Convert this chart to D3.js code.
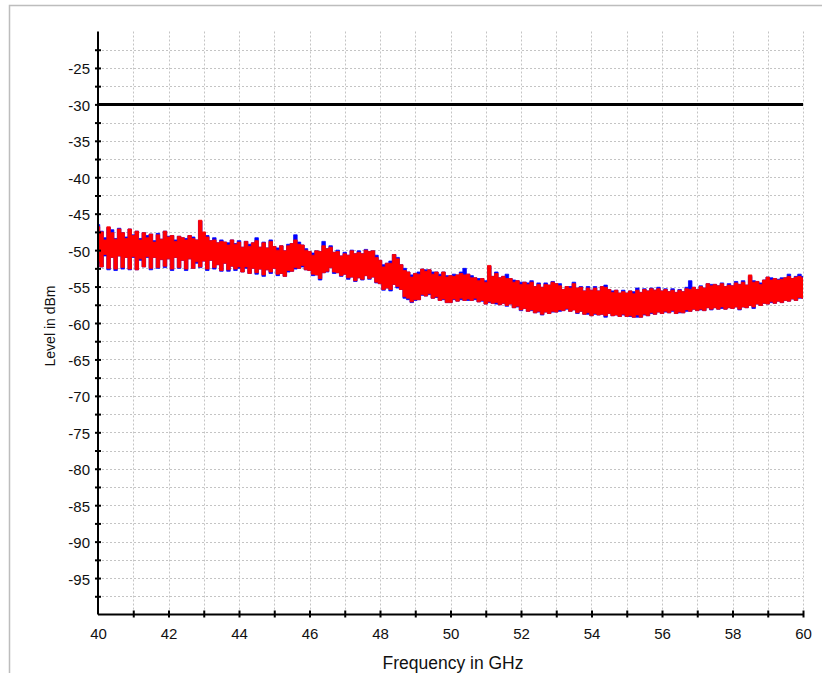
<!DOCTYPE html>
<html>
<head>
<meta charset="utf-8">
<script src="https://cdn.jsdelivr.net/npm/d3@7"></script>
<style>
  html, body { margin: 0; padding: 0; background: #fff; }
  svg { display: block; }
  text { font-family: "Liberation Sans", Arial, sans-serif; fill: #111; }
</style>
</head>
<body>
<svg id="chart" width="822" height="673"></svg>
<script>
// ---- data ----
const freqStart = 40, freqEnd = 60, freqStep = 0.1;
const xTickValues = d3.range(41, 61, 1);
const xLabelValues = [40, 42, 44, 46, 48, 50, 52, 54, 56, 58, 60];
const yTickValues = d3.range(-97.5, -20, 2.5);
const yLabelValues = [-95, -90, -85, -80, -75, -70, -65, -60, -55, -50, -45, -40, -35, -30, -25];
const limitLevel = -30;

// red trace: max / min envelope per 0.1 GHz
const redMax = [
-46.8,-47.5,-48.6,-46.8,-47.6,-48.5,-47.1,-47.6,-48.4,-47.1,
-48.0,-47.4,-48.6,-47.6,-48.3,-47.8,-48.9,-47.9,-48.5,-47.4,
-48.2,-48.0,-48.8,-48.1,-48.3,-48.6,-48.0,-48.4,-48.6,-45.9,
-47.5,-48.2,-48.7,-48.6,-49.0,-48.8,-48.9,-49.3,-48.6,-49.2,
-48.9,-49.6,-48.8,-49.5,-49.0,-48.7,-49.6,-49.0,-49.7,-48.8,
-49.5,-50.0,-49.4,-50.1,-49.4,-49.1,-48.6,-49.2,-49.3,-50.0,
-50.2,-50.7,-50.1,-50.2,-49.4,-49.8,-49.6,-50.3,-50.2,-50.8,
-50.5,-50.7,-50.1,-50.5,-50.3,-50.5,-50.0,-50.2,-50.1,-51.0,
-51.4,-52.3,-51.8,-51.8,-50.6,-51.2,-52.0,-52.8,-53.0,-53.7,
-53.2,-53.3,-52.6,-52.9,-52.7,-53.3,-53.0,-53.6,-53.0,-53.7,
-53.5,-53.6,-53.4,-53.2,-53.4,-53.3,-53.8,-53.8,-54.2,-53.9,
-54.4,-52.1,-53.6,-53.2,-53.8,-53.6,-53.9,-53.9,-54.4,-54.2,
-54.7,-54.4,-54.7,-54.4,-55.0,-54.7,-55.1,-54.7,-54.8,-54.4,
-54.6,-54.9,-55.4,-55.0,-55.2,-54.6,-55.2,-55.1,-55.6,-55.2,
-55.5,-55.2,-55.6,-55.0,-55.1,-55.4,-55.8,-55.5,-55.9,-55.7,
-55.9,-55.6,-56.0,-55.5,-55.8,-55.4,-55.6,-55.3,-55.5,-55.3,
-55.6,-55.4,-55.7,-55.5,-55.8,-55.5,-55.7,-55.3,-55.4,-55.1,
-55.4,-55.0,-55.2,-54.6,-54.9,-54.7,-54.9,-54.6,-55.0,-54.8,
-54.9,-54.5,-54.7,-54.4,-54.8,-53.4,-54.4,-54.3,-54.7,-54.1,
-53.7,-54.1,-53.9,-54.1,-54.0,-53.8,-53.6,-53.9,-53.7,-53.6,
-53.8];
const redMin = [
-51.6,-52.3,-50.6,-52.5,-51.0,-52.6,-50.8,-52.4,-51.0,-52.6,
-50.9,-52.7,-51.2,-52.3,-50.9,-52.5,-51.0,-52.4,-51.3,-52.2,
-51.2,-52.6,-51.0,-52.4,-51.4,-52.6,-51.2,-52.5,-51.6,-52.3,
-51.5,-52.6,-51.4,-52.4,-52.0,-52.8,-51.8,-52.7,-52.2,-52.6,
-52.3,-53.0,-52.3,-53.2,-52.5,-53.1,-52.6,-53.4,-52.7,-53.0,
-52.5,-53.3,-53.2,-53.6,-52.8,-52.9,-52.4,-52.5,-52.1,-52.7,
-52.8,-53.3,-53.4,-53.9,-53.1,-52.9,-52.4,-53.0,-53.1,-53.5,
-53.3,-53.8,-53.7,-54.2,-53.8,-54.0,-53.5,-53.9,-53.7,-54.4,
-54.6,-55.4,-55.2,-55.4,-54.7,-55.0,-55.4,-56.4,-56.6,-57.1,
-56.8,-56.8,-56.1,-56.3,-56.0,-56.6,-56.4,-56.9,-56.7,-57.2,
-57.2,-56.7,-57.0,-56.6,-56.9,-56.7,-56.9,-56.6,-57.1,-56.9,
-57.4,-57.1,-57.3,-57.2,-57.5,-57.3,-57.6,-57.4,-57.9,-57.7,
-58.2,-58.0,-58.4,-58.2,-58.6,-58.4,-58.8,-58.5,-58.7,-58.4,
-58.5,-58.2,-58.3,-58.0,-58.4,-58.2,-58.6,-58.4,-58.8,-58.6,
-59.0,-58.7,-58.9,-58.8,-59.0,-58.7,-59.0,-58.9,-59.1,-58.8,
-59.1,-59.0,-59.2,-58.9,-59.2,-58.8,-59.0,-58.6,-58.8,-58.5,
-58.7,-58.4,-58.6,-58.3,-58.7,-58.5,-58.6,-58.2,-58.4,-58.1,
-58.3,-58.1,-58.3,-57.9,-58.1,-57.9,-58.1,-57.8,-58.1,-57.9,
-58.0,-57.8,-58.1,-57.8,-57.9,-57.6,-57.8,-57.4,-57.6,-57.3,
-57.4,-57.1,-57.3,-57.0,-57.2,-56.9,-57.0,-56.7,-56.9,-56.5,
-56.6];
// blue trace: max / min envelope per 0.1 GHz
const blueMax = [
-46.5,-47.4,-48.3,-46.9,-47.2,-48.4,-47.0,-47.6,-48.2,-47.1,
-47.9,-47.4,-48.4,-47.6,-48.0,-47.8,-48.7,-47.7,-48.5,-47.4,
-48.1,-48.0,-48.6,-48.1,-48.3,-48.4,-48.0,-48.2,-48.6,-46.0,
-47.6,-48.0,-48.7,-48.3,-49.0,-48.6,-48.9,-49.0,-48.6,-49.1,
-48.7,-49.6,-48.8,-49.2,-49.0,-48.3,-49.6,-48.9,-49.7,-48.6,
-49.5,-49.7,-49.4,-50.1,-49.2,-49.1,-47.9,-48.9,-49.3,-49.8,
-50.2,-50.4,-50.1,-50.2,-48.8,-49.8,-49.4,-50.3,-50.0,-50.8,
-50.3,-50.7,-50.0,-50.5,-50.1,-50.5,-49.9,-50.2,-50.1,-50.7,
-51.4,-52.0,-51.8,-51.5,-50.6,-51.0,-52.0,-52.5,-53.0,-53.4,
-53.2,-53.0,-52.6,-52.7,-52.7,-53.0,-53.0,-53.3,-53.0,-53.5,
-53.5,-53.3,-53.4,-53.0,-52.5,-53.3,-53.5,-53.8,-53.9,-53.9,
-54.2,-52.2,-53.6,-53.0,-53.8,-53.6,-53.3,-53.9,-54.1,-54.2,
-54.4,-54.4,-54.5,-54.2,-55.0,-54.5,-55.1,-54.5,-54.8,-54.3,
-54.6,-54.6,-55.4,-55.0,-55.0,-54.4,-55.2,-55.0,-55.6,-55.0,
-55.5,-55.0,-55.6,-55.0,-54.8,-55.4,-55.6,-55.5,-55.9,-55.5,
-55.9,-55.6,-55.7,-55.2,-55.8,-55.3,-55.6,-55.2,-55.5,-55.1,
-55.6,-55.3,-55.7,-55.3,-55.8,-55.4,-55.7,-55.1,-54.2,-55.1,
-55.4,-54.9,-55.2,-54.6,-54.7,-54.7,-54.9,-54.5,-55.0,-54.6,
-54.9,-54.3,-54.7,-54.2,-54.8,-53.6,-54.2,-54.3,-54.5,-54.1,
-53.7,-53.8,-53.9,-54.0,-53.8,-53.8,-53.3,-53.9,-53.6,-53.3,
-53.6];
const blueMin = [
-51.8,-52.3,-50.8,-52.7,-51.0,-52.8,-50.8,-52.6,-51.0,-52.7,
-51.0,-52.7,-51.4,-52.3,-51.0,-52.7,-51.0,-52.5,-51.3,-52.4,
-51.2,-52.8,-51.0,-52.5,-51.4,-52.8,-51.2,-52.5,-51.8,-52.4,
-51.5,-52.8,-51.4,-52.6,-52.0,-52.9,-51.8,-52.9,-52.2,-52.8,
-52.5,-53.0,-52.5,-53.2,-52.5,-53.3,-52.6,-53.6,-52.7,-53.2,
-52.5,-53.5,-53.2,-53.6,-53.0,-52.9,-52.6,-52.5,-52.3,-52.7,
-52.8,-53.5,-53.4,-54.1,-53.1,-53.0,-52.4,-53.2,-53.1,-53.6,
-53.3,-54.0,-53.7,-54.3,-53.8,-54.1,-53.5,-54.0,-53.7,-54.5,
-54.6,-55.5,-55.2,-55.6,-54.7,-55.2,-55.4,-56.6,-56.8,-57.2,
-56.9,-56.8,-56.2,-56.3,-56.1,-56.6,-56.5,-56.9,-56.8,-57.2,
-57.2,-56.8,-57.0,-56.8,-56.9,-56.9,-56.9,-56.8,-57.1,-57.0,
-57.4,-57.2,-57.3,-57.4,-57.5,-57.3,-57.7,-57.4,-57.9,-57.8,
-58.3,-58.0,-58.4,-58.3,-58.6,-58.5,-58.9,-58.5,-58.7,-58.5,
-58.5,-58.4,-58.3,-58.1,-58.4,-58.2,-58.7,-58.4,-58.8,-58.8,
-59.0,-58.8,-58.9,-58.8,-59.2,-58.7,-59.0,-58.9,-59.1,-58.9,
-59.1,-59.1,-59.2,-59.2,-59.2,-58.9,-59.0,-58.7,-58.8,-58.5,
-58.7,-58.5,-58.6,-58.4,-58.7,-58.6,-58.6,-58.4,-58.4,-58.1,
-58.3,-58.2,-58.3,-57.9,-58.2,-57.9,-58.1,-58.0,-58.1,-57.9,
-58.0,-57.8,-58.2,-57.8,-57.9,-57.6,-58.0,-57.4,-57.6,-57.3,
-57.4,-57.2,-57.3,-57.0,-57.2,-56.9,-57.0,-56.7,-56.9,-56.6,
-56.6];

// ---- drawing ----
const svg = d3.select("#chart");
const x = d3.scaleLinear().domain([freqStart, freqEnd]).range([98, 803]);
const y = d3.scaleLinear().domain([-100, -20]).range([614.5, 31.5]);

// panel frame
svg.append("rect").attr("x", 9.5).attr("y", 5.5).attr("width", 830).attr("height", 700)
  .attr("fill", "none").attr("stroke", "#bdbdbd").attr("stroke-width", 1.5);

// grid
const grid = svg.append("g").attr("stroke", "#c4c4c4").attr("stroke-width", 1)
  .attr("stroke-dasharray", "2,2").attr("fill", "none");
grid.selectAll("line.v").data(xTickValues).join("line").attr("class", "v")
  .attr("x1", d => Math.round(x(d)) + 0.5).attr("x2", d => Math.round(x(d)) + 0.5)
  .attr("y1", y(-20)).attr("y2", y(-100));
grid.selectAll("line.h").data(yTickValues).join("line").attr("class", "h")
  .attr("y1", d => Math.round(y(d)) + 0.5).attr("y2", d => Math.round(y(d)) + 0.5)
  .attr("x1", x(40)).attr("x2", x(60));

// clip
svg.append("clipPath").attr("id", "plotclip").append("rect")
  .attr("x", x(40)).attr("y", y(-20)).attr("width", x(60) - x(40)).attr("height", y(-100) - y(-20));

const freqs = redMax.map((_, i) => freqStart + i * freqStep);
function band(maxArr, minArr) {
  return freqs.map((f, i) => ({ f, hi: maxArr[i], lo: minArr[i] }));
}
const area = d3.area().curve(d3.curveStep)
  .x(d => x(d.f)).y0(d => y(d.lo)).y1(d => y(d.hi));

const traces = svg.append("g").attr("clip-path", "url(#plotclip)");
traces.append("path").datum(band(blueMax, blueMin)).attr("d", area)
  .attr("fill", "#0000ff").attr("stroke", "#0000ff").attr("stroke-width", 0.8);
traces.append("path").datum(band(redMax, redMin)).attr("d", area)
  .attr("fill", "#ff0000").attr("stroke", "#ff0000").attr("stroke-width", 0.8);

// limit line
svg.append("line").attr("x1", x(40)).attr("x2", x(60))
  .attr("y1", y(limitLevel)).attr("y2", y(limitLevel))
  .attr("stroke", "#000").attr("stroke-width", 3);

// axes
const yAxis = d3.axisLeft(y).tickValues(yTickValues).tickSize(3).tickPadding(5)
  .tickFormat(d => yLabelValues.includes(d) ? String(d) : "");
const gy = svg.append("g").attr("transform", `translate(${x(40)},0)`).call(yAxis);
gy.select(".domain").attr("d", `M0,${y(-20)}V${y(-100)}`).attr("stroke", "#000").attr("stroke-width", 2);
gy.selectAll(".tick line").attr("x1", 3).attr("x2", -3).attr("stroke", "#000").attr("stroke-width", 2);
gy.selectAll(".tick text").attr("font-size", 15).attr("dy", "0.4em")
  .attr("font-family", "Liberation Sans, Arial, sans-serif").attr("fill", "#111");

const xAxis = d3.axisBottom(x).tickValues(xTickValues.concat([40])).tickSize(3).tickPadding(11)
  .tickFormat(d => xLabelValues.includes(d) ? String(d) : "");
const gx = svg.append("g").attr("transform", `translate(0,${y(-100)})`).call(xAxis);
gx.select(".domain").attr("d", `M${x(40)},0H${x(60)}`).attr("stroke", "#000").attr("stroke-width", 2);
gx.selectAll(".tick line").attr("y1", -4).attr("y2", 3).attr("stroke", "#000").attr("stroke-width", 2)
  .filter(d => d === 40).remove();
gx.selectAll(".tick text").attr("font-size", 15)
  .attr("font-family", "Liberation Sans, Arial, sans-serif").attr("fill", "#111");

// axis titles
svg.append("text").attr("transform", `translate(55,${326}) rotate(-90)`)
  .attr("text-anchor", "middle").attr("font-size", 14).text("Level in dBm");
svg.append("text").attr("x", 453).attr("y", 669)
  .attr("text-anchor", "middle").attr("font-size", 17.5).text("Frequency in GHz");
</script>
</body>
</html>
